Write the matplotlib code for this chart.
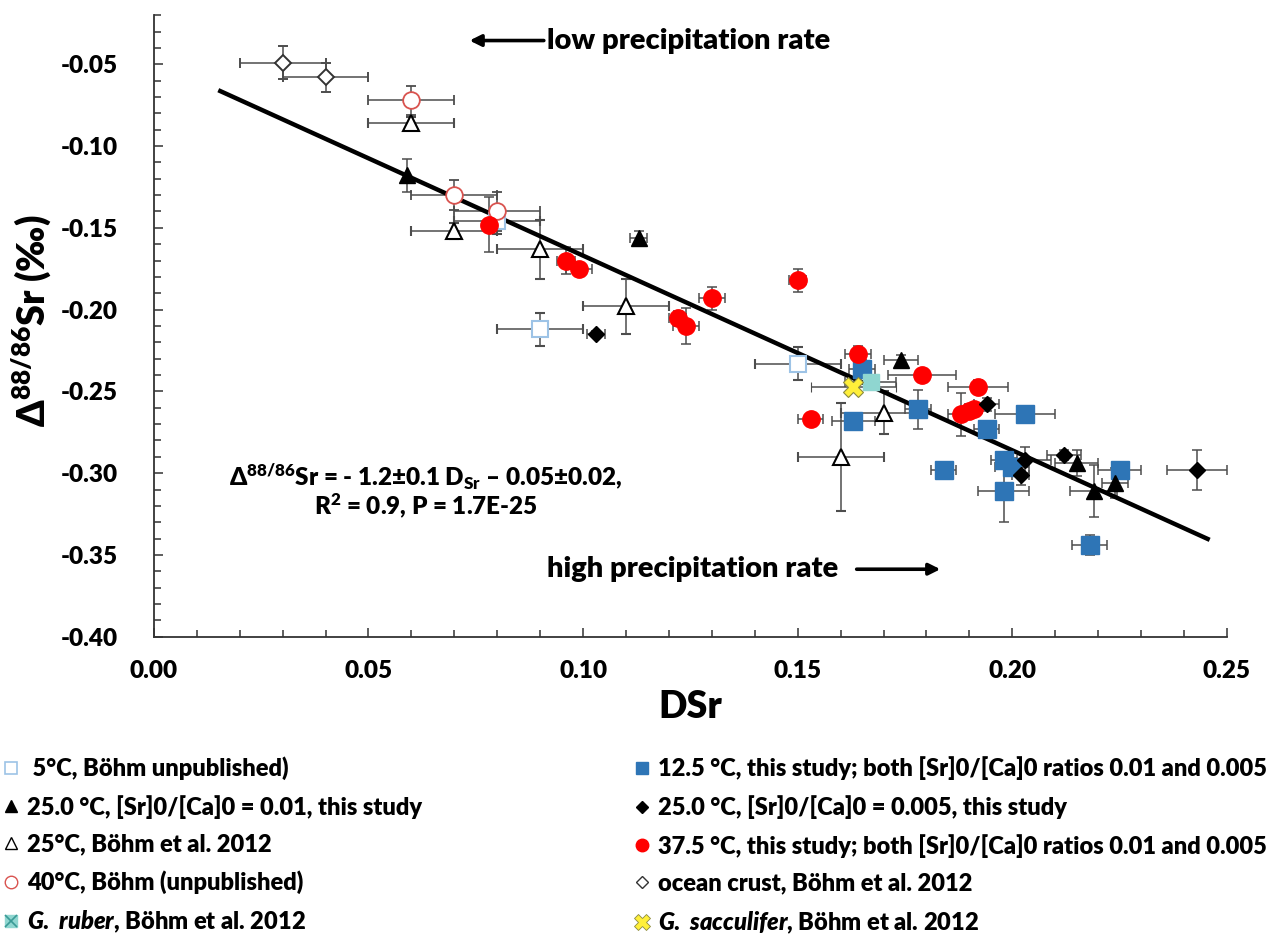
import matplotlib
matplotlib.use('Agg')
import matplotlib.pyplot as plt
from matplotlib.lines import Line2D
from matplotlib.ticker import MultipleLocator, FormatStrFormatter

plt.rcParams['font.family'] = ['Lato', 'DejaVu Sans']
plt.rcParams['font.weight'] = 'heavy'
plt.rcParams['axes.labelweight'] = 'heavy'
plt.rcParams['axes.unicode_minus'] = False
plt.rcParams['mathtext.fontset'] = 'custom'
plt.rcParams['mathtext.rm'] = 'Lato:heavy'
plt.rcParams['mathtext.it'] = 'Lato:italic:heavy'
plt.rcParams['mathtext.bf'] = 'Lato:heavy'

# Data (DSr, D88/86Sr, errors)
cold_x = [0.080, 0.090, 0.150]
cold_y = [-0.146, -0.212, -0.233]
cold_xerr = [0.010, 0.010, 0.010]
cold_yerr = [0.008, 0.010, 0.010]

bohm25_x = [0.060, 0.070, 0.090, 0.110, 0.170, 0.160]
bohm25_y = [-0.086, -0.152, -0.163, -0.198, -0.263, -0.290]
bohm25_xerr = [0.010, 0.010, 0.010, 0.010, 0.010, 0.010]
bohm25_yerr = [0.004, 0.005, 0.018, 0.017, 0.013, 0.033]

bohm40_x = [0.060, 0.070, 0.080]
bohm40_y = [-0.072, -0.130, -0.140]
bohm40_xerr = [0.010, 0.010, 0.010]
bohm40_yerr = [0.009, 0.009, 0.012]

crust_x = [0.030, 0.040]
crust_y = [-0.049, -0.058]
crust_xerr = [0.010, 0.010]
crust_yerr = [0.010, 0.009]

t125_x = [0.165, 0.163, 0.178, 0.184, 0.203, 0.194, 0.198, 0.200, 0.198, 0.225, 0.218]
t125_y = [-0.236, -0.268, -0.261, -0.298, -0.264, -0.273, -0.292, -0.296, -0.311, -0.298, -0.344]
t125_xerr = [0.003, 0.005, 0.003, 0.003, 0.007, 0.003, 0.003, 0.004, 0.006, 0.005, 0.004]
t125_yerr = [0.005, 0.004, 0.012, 0.003, 0.005, 0.004, 0.005, 0.005, 0.019, 0.005, 0.006]

t375_x = [0.078, 0.096, 0.099, 0.122, 0.124, 0.130, 0.150, 0.153, 0.164, 0.179, 0.192, 0.188, 0.190, 0.191]
t375_y = [-0.148, -0.170, -0.175, -0.205, -0.210, -0.193, -0.182, -0.267, -0.227, -0.240, -0.247, -0.264,
          -0.262, -0.261]
t375_xerr = [0.000, 0.002, 0.003, 0.002, 0.003, 0.003, 0.002, 0.003, 0.003, 0.008, 0.007, 0.003, 0.002, 0.002]
t375_yerr = [0.017, 0.008, 0.003, 0.004, 0.011, 0.007, 0.007, 0.004, 0.005, 0.004, 0.004, 0.013, 0.004, 0.004]

t25a_x = [0.059, 0.113, 0.174, 0.215, 0.219, 0.224]
t25a_y = [-0.118, -0.156, -0.231, -0.294, -0.311, -0.306]
t25a_xerr = [0.000, 0.002, 0.004, 0.005, 0.0055, 0.003]
t25a_yerr = [0.010, 0.004, 0.003, 0.008, 0.016, 0.009]

t25b_x = [0.103, 0.194, 0.203, 0.202, 0.212, 0.243]
t25b_y = [-0.215, -0.258, -0.292, -0.301, -0.289, -0.298]
t25b_xerr = [0.002, 0.003, 0.006, 0.002, 0.004, 0.007]
t25b_yerr = [0.002, 0.004, 0.008, 0.006, 0.003, 0.012]

ruber_x = [0.167]
ruber_y = [-0.244]
ruber_xerr = [0.006]
ruber_yerr = [0.004]

sacc_x = [0.163]
sacc_y = [-0.247]
sacc_xerr = [0.010]
sacc_yerr = [0.003]

# regression line
fit_slope = -1.19
fit_icpt = -0.048
fit_x = [0.015, 0.246]

fig = plt.figure(figsize=(12.72, 9.49), dpi=100)
ax = fig.add_axes([0.121, 0.329, 0.8435, 0.655])

eb = dict(ecolor='#4d4d4d', elinewidth=1.1, capsize=3.8, capthick=1.1, linestyle='none')

ax.errorbar(cold_x, cold_y, xerr=cold_xerr, yerr=cold_yerr, marker='s', ms=11, mfc='white',
            mec='#9dc3e6', mew=1.5, **eb)
ax.errorbar(bohm25_x, bohm25_y, xerr=bohm25_xerr, yerr=bohm25_yerr, marker='^', ms=12, mfc='white',
            mec='black', mew=1.5, **eb)
ax.errorbar(bohm40_x, bohm40_y, xerr=bohm40_xerr, yerr=bohm40_yerr, marker='o', ms=12, mfc='white',
            mec='#d9534f', mew=1.3, **eb)
ax.errorbar(crust_x, crust_y, xerr=crust_xerr, yerr=crust_yerr, marker='D', ms=8.5, mfc='white',
            mec='#333333', mew=1.4, **eb)
ax.errorbar(t125_x, t125_y, xerr=t125_xerr, yerr=t125_yerr, marker='s', ms=12.5, mfc='#2e75b6',
            mec='#2e75b6', **eb)
ax.errorbar(t375_x, t375_y, xerr=t375_xerr, yerr=t375_yerr, marker='o', ms=12.5, mfc='#ff0000',
            mec='#ff0000', **eb)
ax.errorbar(t25a_x, t25a_y, xerr=t25a_xerr, yerr=t25a_yerr, marker='^', ms=12, mfc='black',
            mec='black', **eb)
ax.errorbar(t25b_x, t25b_y, xerr=t25b_xerr, yerr=t25b_yerr, marker='D', ms=8, mfc='black',
            mec='black', **eb)
ax.errorbar(ruber_x, ruber_y, xerr=ruber_xerr, yerr=ruber_yerr, marker='s', ms=11, mfc='#8fd6d0',
            mec='#8fd6d0', **eb)
ax.plot(ruber_x, ruber_y, ls='none', marker='x', ms=10, mew=1.5, color='#3a9a96')
ax.errorbar(sacc_x, sacc_y, xerr=sacc_xerr, yerr=sacc_yerr, marker='X', ms=14, mfc='#ffef3a',
            mec='#8a8a40', mew=0.8, **eb)

fit_y = [fit_slope * v + fit_icpt for v in fit_x]
ax.plot(fit_x, fit_y, color='black', lw=3.2, solid_capstyle='butt')

ax.set_xlim(0, 0.25)
ax.set_ylim(-0.40, -0.02)
ax.xaxis.set_major_locator(MultipleLocator(0.05))
ax.xaxis.set_minor_locator(MultipleLocator(0.01))
ax.yaxis.set_minor_locator(MultipleLocator(0.01))
ax.xaxis.set_major_formatter(FormatStrFormatter('%.2f'))
ax.yaxis.set_major_formatter(FormatStrFormatter('%.2f'))
ax.set_yticks([-0.40, -0.35, -0.30, -0.25, -0.20, -0.15, -0.10, -0.05])
ax.tick_params(which='both', direction='in', color='#333333', width=1.1)
ax.tick_params(which='major', length=6.5, labelsize=17.5)
ax.tick_params(which='minor', length=5)
ax.tick_params(axis='y', which='major', pad=26)
ax.tick_params(axis='x', which='major', pad=17)
for s in ['top', 'right']:
    ax.spines[s].set_visible(False)
for s in ['left', 'bottom']:
    ax.spines[s].set_color('#333333')
    ax.spines[s].set_linewidth(1.3)

ax.set_xlabel('DSr', fontsize=27, fontweight='heavy')
ax.xaxis.set_label_coords(0.5, -0.113)
ax.xaxis.label.set_va('center')
ax.text(-0.114, 0.508, 'Δ$^{88/86}$Sr (‰)', fontsize=27, rotation=90, ha='center', va='center',
        transform=ax.transAxes)

# arrows and annotations
ax.annotate('', xy=(0.0729, -0.0355), xytext=(0.0915, -0.0355),
            arrowprops=dict(arrowstyle='-|>', lw=2.6, color='black', mutation_scale=17))
ax.text(0.0917, -0.0355, 'low precipitation rate', fontsize=21, va='center', ha='left')
ax.annotate('', xy=(0.1839, -0.3587), xytext=(0.1631, -0.3587),
            arrowprops=dict(arrowstyle='-|>', lw=2.6, color='black', mutation_scale=17))
ax.text(0.1594, -0.3587, 'high precipitation rate', fontsize=21, va='center', ha='right')

ax.text(0.0634, -0.3025, 'Δ$^{88/86}$Sr = - 1.2±0.1 D$_{\\mathrm{Sr}}$ – 0.05±0.02,', fontsize=17.5,
        ha='center', va='center')
ax.text(0.0634, -0.3205, 'R$^{2}$ = 0.9, P = 1.7E-25', fontsize=17.5, ha='center', va='center')

# legend
lms = 9
h_cold = Line2D([], [], ls='none', marker='s', ms=lms, mfc='white', mec='#9dc3e6', mew=1.2)
h_t25a = Line2D([], [], ls='none', marker='^', ms=lms, mfc='black', mec='black')
h_b25 = Line2D([], [], ls='none', marker='^', ms=lms, mfc='white', mec='black', mew=1.0)
h_b40 = Line2D([], [], ls='none', marker='o', ms=lms, mfc='white', mec='#d9534f', mew=1.0)
h_rub = (Line2D([], [], ls='none', marker='s', ms=lms, mfc='#8fd6d0', mec='#8fd6d0'),
         Line2D([], [], ls='none', marker='x', ms=8, mew=1.2, color='#3a9a96'))
h_t125 = Line2D([], [], ls='none', marker='s', ms=lms, mfc='#2e75b6', mec='#2e75b6')
h_t25b = Line2D([], [], ls='none', marker='D', ms=6.5, mfc='black', mec='black')
h_t375 = Line2D([], [], ls='none', marker='o', ms=lms, mfc='#ff0000', mec='#ff0000')
h_cr = Line2D([], [], ls='none', marker='D', ms=6.5, mfc='white', mec='#333333', mew=1.0)
h_sac = Line2D([], [], ls='none', marker='X', ms=11, mfc='#ffef3a', mec='#8a8a40', mew=0.6)

col1 = [h_cold, h_t25a, h_b25, h_b40, h_rub]
lab1 = [' 5°C, Böhm unpublished)',
        '25.0 °C, [Sr]0/[Ca]0 = 0.01, this study',
        '25°C, Böhm et al. 2012',
        '40°C, Böhm (unpublished)',
        '$\\mathit{G.\\ ruber}$, Böhm et al. 2012']
col2 = [h_t125, h_t25b, h_t375, h_cr, h_sac]
lab2 = ['12.5 °C, this study; both [Sr]0/[Ca]0 ratios 0.01 and 0.005',
        '25.0 °C, [Sr]0/[Ca]0 = 0.005, this study',
        '37.5 °C, this study; both [Sr]0/[Ca]0 ratios 0.01 and 0.005',
        'ocean crust, Böhm et al. 2012',
        '$\\mathit{G.\\ sacculifer}$, Böhm et al. 2012']
lkw = dict(loc='upper left', frameon=False, fontsize=17, handlelength=0.7, handletextpad=0.35,
           labelspacing=0.63, borderpad=0, borderaxespad=0)
fig.legend(col1, lab1, bbox_to_anchor=(0.002, 0.203), **lkw)
fig.legend(col2, lab2, bbox_to_anchor=(0.498, 0.203), **lkw)

fig.savefig('out.png', dpi=100)
